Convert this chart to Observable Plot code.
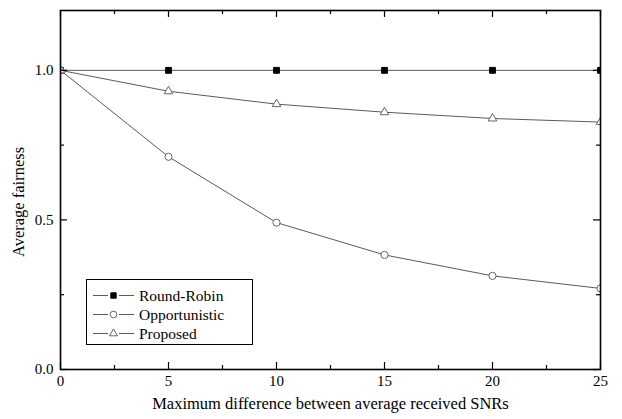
<!DOCTYPE html>
<html>
<head>
<meta charset="utf-8">
<script src="https://cdn.jsdelivr.net/npm/d3@7"></script>
<script src="https://cdn.jsdelivr.net/npm/@observablehq/plot@0.6"></script>
<style>
  body { margin: 0; background: #fff; }
  #wrap { position: relative; width: 622px; height: 419px; font-family: "Liberation Serif", "Times New Roman", Times, "DejaVu Serif", serif; }
  #wrap svg text { font-family: "Liberation Serif", "Times New Roman", Times, "DejaVu Serif", serif; }
  #legend { position: absolute; left: 86px; top: 279px; width: 167px; height: 66px; border: 1px solid #000; background: #fff; box-sizing: border-box; font-size: 15.5px; font-family: "Liberation Serif", "Times New Roman", Times, serif; }
  .row { position: absolute; left: 0; height: 19px; display: flex; align-items: center; }
  .row svg { display: block; }
  .row span { margin-left: 4px; color: #000; }
</style>
</head>
<body>
<div id="wrap"></div>
<script>
const xValues = [0, 5, 10, 15, 20, 25];
const roundRobin = [1.0, 1.0, 1.0, 1.0, 1.0, 1.0];
const opportunistic = [1.0, 0.711, 0.491, 0.383, 0.313, 0.271];
const proposed = [1.0, 0.930, 0.887, 0.860, 0.839, 0.827];
const seriesNames = ["Round-Robin", "Opportunistic", "Proposed"];
const xMajorTicks = [0, 5, 10, 15, 20, 25];
const xMinorTicks = [2.5, 7.5, 12.5, 17.5, 22.5];
const yMajorTicks = [0.0, 0.5, 1.0];
const yMinorTicks = [0.25, 0.75];
const xTitle = "Maximum difference between average received SNRs";
const yTitle = "Average fairness";

const serif = "'Liberation Serif', 'Times New Roman', Times, 'DejaVu Serif', serif";

const styles = {
  "Round-Robin": {symbol: "square", fill: "#000", stroke: "#000", r: 3.3},
  "Opportunistic": {symbol: "circle", fill: "#fff", stroke: "#666", r: 3.6},
  "Proposed": {symbol: "triangle", fill: "#fff", stroke: "#666", r: 3.2}
};
const seriesValues = [roundRobin, opportunistic, proposed];
const table = [];
seriesNames.forEach((name, i) => {
  xValues.forEach((x, j) => table.push({series: name, x, y: seriesValues[i][j]}));
});

const innerH = 419 - 10 - 50;
const innerW = 622 - 60 - 22;

const marks = [];
seriesNames.forEach(name => {
  marks.push(Plot.line(table.filter(d => d.series === name), {x: "x", y: "y", stroke: "#5a5a5a", strokeWidth: 1, clip: true}));
});
seriesNames.forEach(name => {
  const s = styles[name];
  marks.push(Plot.dot(table.filter(d => d.series === name), {x: "x", y: "y", symbol: s.symbol, fill: s.fill, stroke: s.stroke, strokeWidth: 1, r: s.r, clip: true}));
});
marks.push(Plot.tickX(xMajorTicks, {x: d => d, stroke: "#000", strokeWidth: 1.2, insetTop: innerH - 7}));
marks.push(Plot.tickX(xMinorTicks, {x: d => d, stroke: "#000", strokeWidth: 1.2, insetTop: innerH - 4}));
marks.push(Plot.tickX(xMajorTicks, {x: d => d, stroke: "#000", strokeWidth: 1.2, insetBottom: innerH - 7}));
marks.push(Plot.tickX(xMinorTicks, {x: d => d, stroke: "#000", strokeWidth: 1.2, insetBottom: innerH - 4}));
marks.push(Plot.tickY(yMajorTicks, {y: d => d, stroke: "#000", strokeWidth: 1.2, insetRight: innerW - 7}));
marks.push(Plot.tickY(yMinorTicks, {y: d => d, stroke: "#000", strokeWidth: 1.2, insetRight: innerW - 4}));
marks.push(Plot.tickY(yMajorTicks, {y: d => d, stroke: "#000", strokeWidth: 1.2, insetLeft: innerW - 7}));
marks.push(Plot.tickY(yMinorTicks, {y: d => d, stroke: "#000", strokeWidth: 1.2, insetLeft: innerW - 4}));
marks.push(Plot.frame({stroke: "#000", strokeWidth: 1.6}));
marks.push(Plot.axisX(xMajorTicks, {tickSize: 0, tickPadding: 6, tickFormat: d => String(d), fontSize: 15, fill: "#000", label: null}));
marks.push(Plot.axisY(yMajorTicks, {tickSize: 0, tickPadding: 7, tickFormat: d => d.toFixed(1), fontSize: 15, fill: "#000", label: null}));
marks.push(Plot.text([xTitle], {text: d => d, frameAnchor: "bottom", textAnchor: "middle", dy: 39, fontSize: 16.5, fill: "#000"}));
marks.push(Plot.text([yTitle], {text: d => d, frameAnchor: "left", textAnchor: "middle", dx: -42, dy: 12, rotate: -90, fontSize: 16.5, fill: "#000"}));

const chart = Plot.plot({
  width: 622,
  height: 419,
  marginLeft: 60,
  marginRight: 22,
  marginTop: 10,
  marginBottom: 50,
  x: {domain: [0, 25]},
  y: {domain: [0, 1.2]},
  style: {fontFamily: serif, fontSize: "15px", background: "#fff", color: "#000"},
  marks
});
const wrap = document.getElementById("wrap");
wrap.appendChild(chart);

const legend = document.createElement("div");
legend.id = "legend";
seriesNames.forEach((name, i) => {
  const s = styles[name];
  const row = document.createElement("div");
  row.className = "row";
  row.style.top = (6 + i * 19) + "px";
  const svgNS = "http://www.w3.org/2000/svg";
  const svg = document.createElementNS(svgNS, "svg");
  svg.setAttribute("width", "48");
  svg.setAttribute("height", "19");
  const line1 = document.createElementNS(svgNS, "line");
  line1.setAttribute("x1", 6); line1.setAttribute("x2", 21);
  line1.setAttribute("y1", 9.5); line1.setAttribute("y2", 9.5);
  line1.setAttribute("stroke", "#5a5a5a");
  const line2 = line1.cloneNode();
  line2.setAttribute("x1", 32); line2.setAttribute("x2", 47);
  svg.appendChild(line1); svg.appendChild(line2);
  const path = document.createElementNS(svgNS, "path");
  const sym = s.symbol === "square" ? d3.symbolSquare : s.symbol === "circle" ? d3.symbolCircle : d3.symbolTriangle;
  path.setAttribute("d", d3.symbol(sym, Math.PI * s.r * s.r * 0.85)());
  path.setAttribute("transform", "translate(26.5,9.5)");
  path.setAttribute("fill", s.fill);
  path.setAttribute("stroke", s.stroke);
  svg.appendChild(path);
  row.appendChild(svg);
  const label = document.createElement("span");
  label.textContent = name;
  row.appendChild(label);
  legend.appendChild(row);
});
wrap.appendChild(legend);
</script>
</body>
</html>
